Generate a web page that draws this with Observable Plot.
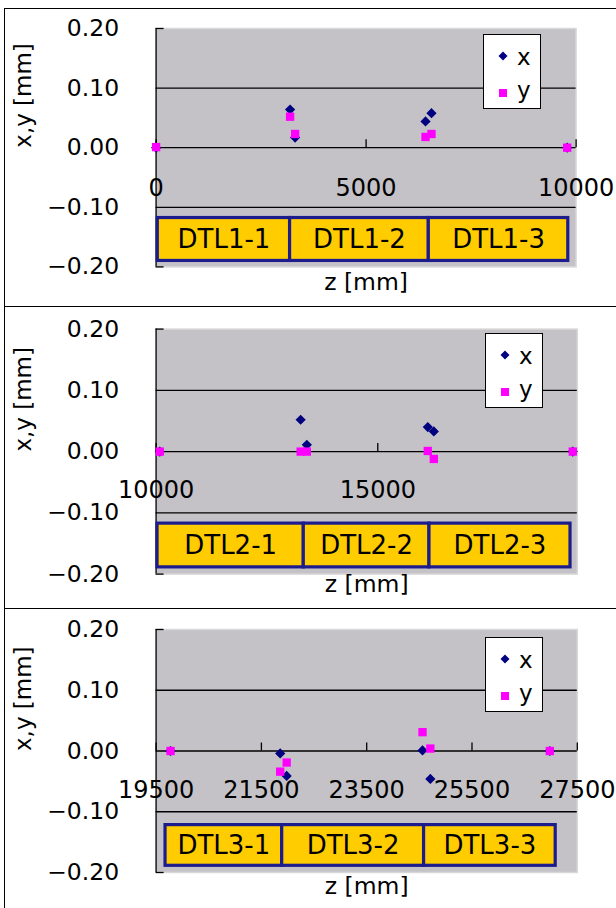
<!DOCTYPE html>
<html><head><meta charset="utf-8">
<script src="https://cdn.jsdelivr.net/npm/d3@7"></script>
<script src="https://cdn.jsdelivr.net/npm/@observablehq/plot@0.6"></script>
<style>
html,body{margin:0;padding:0;background:#fff;}
#root{position:relative;width:616px;height:908px;overflow:hidden;font-family:"DejaVu Sans",sans-serif;}
.panel{position:absolute;left:4px;width:640px;border-top:1.5px solid #000;border-left:1.5px solid #000;box-sizing:border-box;}
.legend{position:absolute;width:58px;height:75px;background:#fff;border:1.5px solid #000;box-sizing:border-box;}
.legend svg{position:absolute;left:0;top:0;}
svg.plot{position:absolute;left:0;}
</style></head><body><div id="root"></div>
<script>
// ---- data ----
const yTicks = [-0.2, -0.1, 0, 0.1, 0.2];
const gridValues = [-0.1, 0.1];
const seriesNames = ["x", "y"];

// Panel 1 (DTL1)
const z1 = [0, 3190, 3310, 6415, 6557, 9788];
const x1 = [0.000, 0.064, 0.017, 0.044, 0.058, 0.000];
const y1 = [0.001, 0.052, 0.023, 0.018, 0.023, 0.000];
const domain1 = [0, 10000];
const ticks1 = [0, 5000, 10000];
const edges1 = [40, 3190, 6493, 9814];
const labels1 = ["DTL1-1", "DTL1-2", "DTL1-3"];

// Panel 2 (DTL2)
const z2 = [10083, 13260, 13400, 16128, 16264, 19398];
const x2 = [0.000, 0.052, 0.011, 0.040, 0.033, 0.000];
const y2 = [0.000, 0.000, 0.000, 0.001, -0.012, 0.000];
const domain2 = [10000, 19500];
const ticks2 = [10000, 15000];
const edges2 = [10032, 13331, 16166, 19347];
const labels2 = ["DTL2-1", "DTL2-2", "DTL2-3"];

// Panel 3 (DTL3)
const z3 = [19774, 21857, 21980, 24560, 24709, 26978];
const x3 = [0.000, -0.004, -0.041, 0.001, -0.046, 0.000];
const y3 = [0.000, -0.034, -0.019, 0.031, 0.004, 0.000];
const domain3 = [19500, 27500];
const ticks3 = [19500, 21500, 23500, 25500, 27500];
const edges3 = [19679, 21895, 24590, 27090];
const labels3 = ["DTL3-1", "DTL3-2", "DTL3-3"];

const panels = [
  {z: z1, x: x1, y: y1, domain: domain1, ticks: ticks1, edges: edges1, labels: labels1},
  {z: z2, x: x2, y: y2, domain: domain2, ticks: ticks2, edges: edges2, labels: labels2},
  {z: z3, x: x3, y: y3, domain: domain3, ticks: ticks3, edges: edges3, labels: labels3}
];

// ---- layout / style ----
const layout = [
  {top: 8.3, height: 298.4, mt: 20, mb: 40, mr: 40.4, xlabDy: 40.5, zTitleDy: 23, boxY: [-0.118, -0.19], legend: [483.3, 34]},
  {top: 306.7, height: 301.6, mt: 21.6, mb: 35, mr: 39.2, xlabDy: 39, zTitleDy: 18, boxY: [-0.1176, -0.189], legend: [485, 333.3]},
  {top: 608.3, height: 299.7, mt: 21, mb: 35.7, mr: 39.2, xlabDy: 39, zTitleDy: 22, boxY: [-0.122, -0.189], legend: [485, 636.7]}
];
const colX = "#000080", colY = "#ff00ff", gray = "#c4c2c7", gold = "#ffcc00", navy = "#1c1c8c";
const FONT = "DejaVu Sans";

const root = document.getElementById("root");

panels.forEach((P, i) => {
  const L = layout[i];
  const panel = document.createElement("div");
  panel.className = "panel";
  panel.style.top = (L.top - 0.75) + "px";
  panel.style.height = (i === 2 ? 400 : L.height + 1) + "px";
  root.appendChild(panel);

  const ptsX = P.z.map((z, j) => ({z, v: P.x[j]}));
  const ptsY = P.z.map((z, j) => ({z, v: P.y[j]}));
  const boxes = P.labels.map((lab, j) => ({x1: P.edges[j], x2: P.edges[j + 1], label: lab}));
  const xmin = P.domain[0];
  const yMid = (L.boxY[0] + L.boxY[1]) / 2;

  const svg = Plot.plot({
    width: 616,
    height: L.height,
    marginLeft: 155.6,
    marginRight: L.mr,
    marginTop: L.mt,
    marginBottom: L.mb,
    x: {domain: P.domain, axis: null},
    y: {domain: [-0.2, 0.2], axis: null},
    style: {background: "transparent", overflow: "visible", fontFamily: FONT, color: "#000"},
    marks: [
      Plot.frame({fill: gray, stroke: "#d8d8d8", strokeWidth: 1.5}),
      Plot.ruleY(gridValues, {stroke: "#000", strokeWidth: 1.3}),
      Plot.ruleY([0], {stroke: "#000", strokeWidth: 1.3}),
      Plot.ruleX([xmin], {stroke: "#000", strokeWidth: 1.3}),
      Plot.ruleY([yTicks[0], yTicks[yTicks.length - 1]], {x1: () => xmin, x2: () => xmin, insetRight: -8, stroke: "#000", strokeWidth: 1.3}),
      Plot.ruleX(P.ticks, {y1: () => 0, y2: () => 0, insetBottom: 8, stroke: "#000", strokeWidth: 1.3}),
      Plot.axisY({ticks: yTicks, tickSize: 0, tickPadding: 37, tickFormat: d3.format(".2f"), fontSize: 23.5, label: null, fill: "#000"}),
      Plot.text(P.ticks, {x: d => d, y: () => 0, dy: L.xlabDy, text: d => String(d), fontSize: 24, fill: "#000"}),
      Plot.rect(boxes, {x1: "x1", x2: "x2", y1: () => L.boxY[0], y2: () => L.boxY[1], fill: gold, stroke: navy, strokeWidth: 3.2}),
      Plot.text(boxes, {x: d => (d.x1 + d.x2) / 2, y: () => yMid, text: "label", fontSize: 26, fill: "#000"}),
      Plot.dot(ptsX, {x: "z", y: "v", symbol: "diamond2", r: 4.6, fill: colX, stroke: "none"}),
      Plot.dot(ptsY, {x: "z", y: "v", symbol: "square", r: 4.7, fill: colY, stroke: "none"}),
      Plot.text([0], {frameAnchor: "left", text: () => "x,y [mm]", rotate: -90, dx: -132, fontSize: 23, fill: "#000"}),
      Plot.text([0], {frameAnchor: "bottom", text: () => "z [mm]", dy: L.zTitleDy, fontSize: 23.5, fill: "#000"})
    ]
  });
  svg.classList.add("plot");
  svg.style.top = L.top + "px";
  root.appendChild(svg);

  // legend
  const lg = document.createElement("div");
  lg.className = "legend";
  lg.style.left = L.legend[0] + "px";
  lg.style.top = L.legend[1] + "px";
  lg.innerHTML = `<svg width="58" height="75" style="font-family:'${FONT}'">
    <path d="M19,16.5L23.5,21L19,25.5L14.5,21Z" fill="${colX}"/>
    <text x="33" y="30" font-size="23" fill="#000">${seriesNames[0]}</text>
    <rect x="15" y="54" width="8" height="8" fill="${colY}"/>
    <text x="33" y="63" font-size="23" fill="#000">${seriesNames[1]}</text>
  </svg>`;
  root.appendChild(lg);
});
</script></body></html>
